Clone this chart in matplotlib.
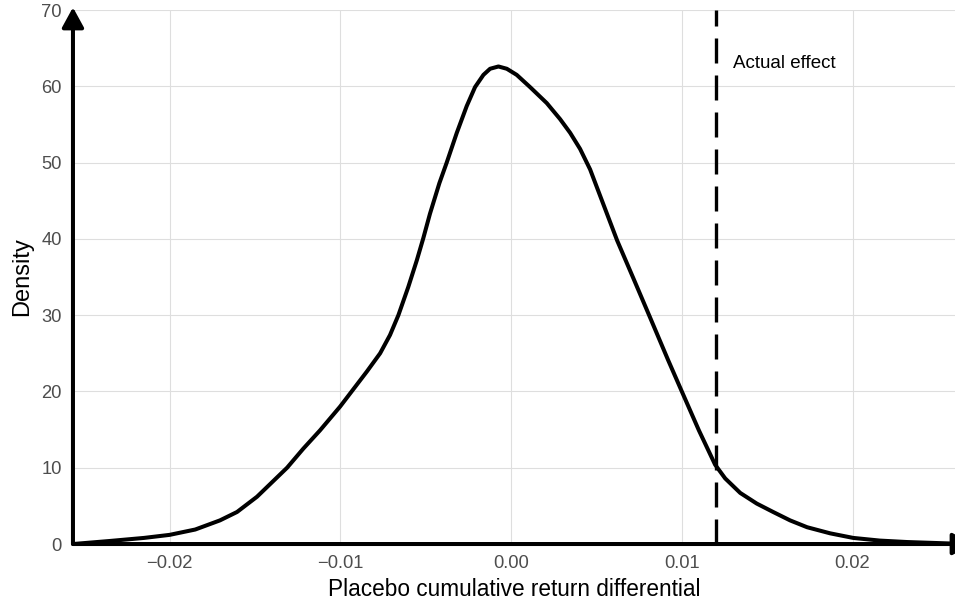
import numpy as np
import matplotlib
matplotlib.use("Agg")
import matplotlib.pyplot as plt

plt.rcParams['font.family'] = ['Liberation Sans', 'DejaVu Sans']

# density curve
diff_x = [-0.02566, -0.0235, -0.0215, -0.0200, -0.0185, -0.01705, -0.01605, -0.01488,
          -0.01312, -0.01217, -0.01119, -0.01002, -0.00845, -0.00767, -0.00709, -0.0066,
          -0.00602, -0.00552, -0.00514, -0.00475, -0.0042, -0.00377, -0.00318, -0.0026,
          -0.00211, -0.00162, -0.00123, -0.00074, -0.00025, 0.00033, 0.00111, 0.00209,
          0.00287, 0.00346, 0.00404, 0.00463, 0.00502, 0.00621, 0.00715, 0.00814,
          0.0092, 0.01002, 0.0110, 0.01195, 0.01254, 0.01342, 0.01439, 0.01535,
          0.01634, 0.01734, 0.01869, 0.02004, 0.0216, 0.0232, 0.0260]
density = [0.0, 0.4, 0.8, 1.2, 1.9, 3.1, 4.2, 6.2,
           10.0, 12.5, 14.9, 18.0, 22.6, 25.0, 27.4, 30.0,
           33.7, 37.2, 40.1, 43.3, 47.3, 50.0, 53.9, 57.4,
           59.9, 61.5, 62.3, 62.6, 62.3, 61.5, 59.9, 57.8,
           55.7, 53.9, 51.8, 49.1, 46.8, 39.8, 34.9, 29.7,
           24.1, 19.9, 14.9, 10.4, 8.6, 6.7, 5.3, 4.2,
           3.1, 2.2, 1.4, 0.8, 0.45, 0.26, 0.05]
actual_effect = 0.012

x_ticks = [-0.02, -0.01, 0.00, 0.01, 0.02]
x_labels = ['\u22120.02', '\u22120.01', '0.00', '0.01', '0.02']
y_ticks = [0, 10, 20, 30, 40, 50, 60, 70]

fig = plt.figure(figsize=(9.55, 6.04), dpi=100)
ax = fig.add_axes([0.0764, 0.0993, 0.9236, 0.8841])

ax.plot(diff_x, density, color='black', lw=2.9, solid_joinstyle='round',
        solid_capstyle='butt', zorder=3)
ax.plot([actual_effect, actual_effect], [0, 70], color='black', lw=2.4,
        dashes=(7.5, 3.6), zorder=3)
ax.text(0.0130, 63, 'Actual effect', ha='left', va='center', fontsize=13.5,
        color='black')

ax.set_xlim(-0.02566, 0.026)
ax.set_ylim(0, 70)
ax.set_xticks(x_ticks)
ax.set_xticklabels(x_labels)
ax.set_yticks(y_ticks)
ax.tick_params(length=0, labelsize=13.2, labelcolor='#4d4d4d', pad=8)
ax.grid(True, color='#dedede', lw=0.8)
ax.set_axisbelow(True)
for s in ax.spines.values():
    s.set_visible(False)

# axis lines with arrow heads
arrow = dict(arrowstyle='-|>,head_length=0.55,head_width=0.3', color='black',
             lw=2.9, shrinkA=0, shrinkB=0, mutation_scale=22)
ax.annotate('', xy=(0, 1.005), xytext=(0, 0), xycoords='axes fraction',
            textcoords='axes fraction', arrowprops=arrow, annotation_clip=False)
ax.annotate('', xy=(1.02, 0), xytext=(0, 0), xycoords='axes fraction',
            textcoords='axes fraction', arrowprops=arrow, annotation_clip=False)

ax.set_xlabel('Placebo cumulative return differential', fontsize=16.3, labelpad=4)
ax.set_ylabel('Density', fontsize=17, labelpad=6)

fig.savefig('out.png', dpi=100)
